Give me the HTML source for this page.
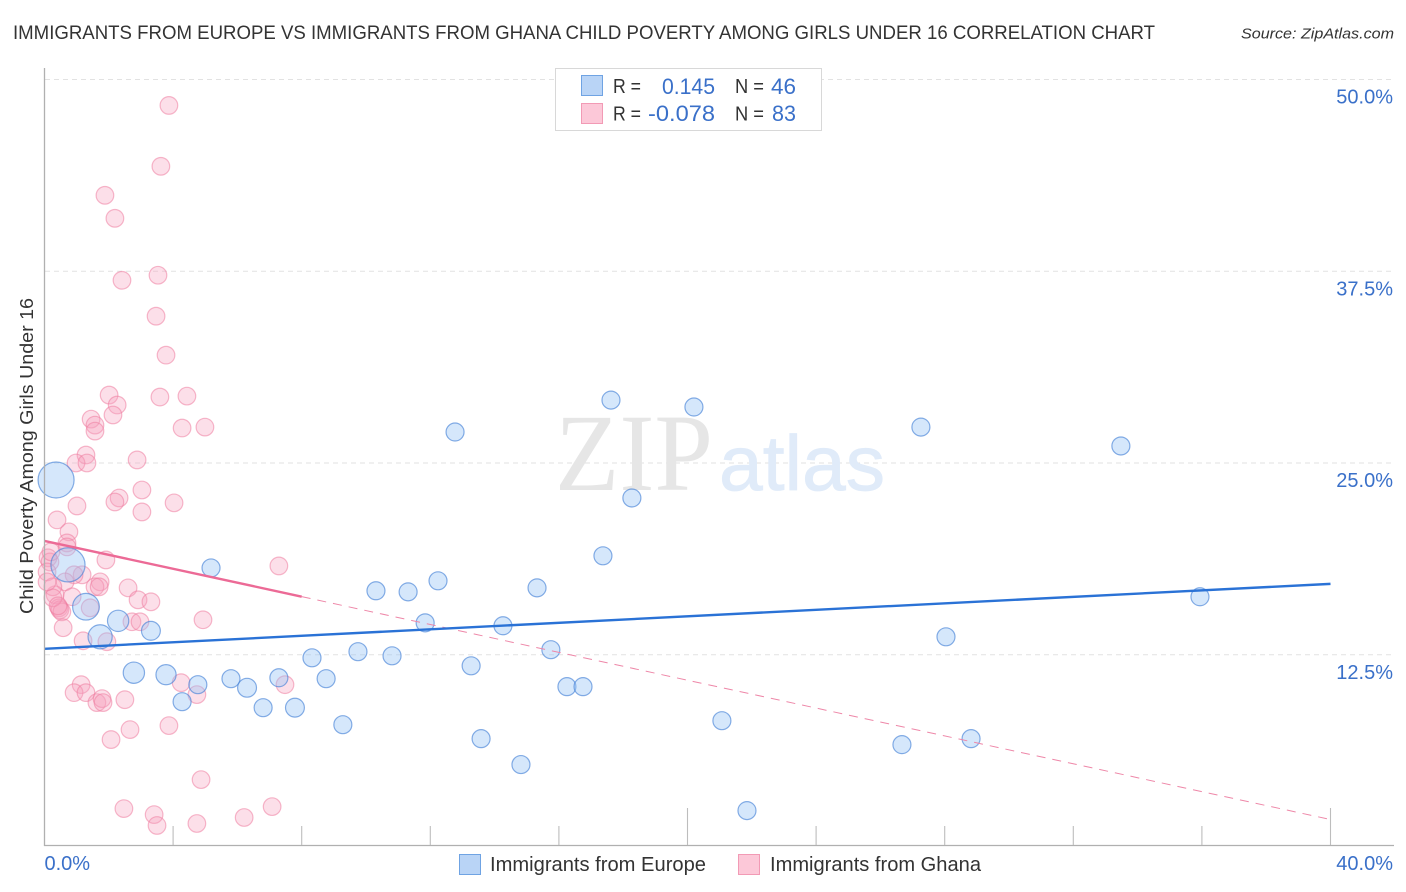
<!DOCTYPE html>
<html lang="en">
<head>
<meta charset="utf-8">
<title>Immigrants from Europe vs Immigrants from Ghana Child Poverty Correlation Chart</title>
<style>
html,body{margin:0;padding:0;background:#fff;width:1406px;height:892px;overflow:hidden}
svg{display:block;font-family:"Liberation Sans",sans-serif}
</style>
</head>
<body>
<svg id="chart" width="1406" height="892" viewBox="0 0 1406 892">
  <text x="13" y="39" font-size="19.5" fill="#333" textLength="1142" lengthAdjust="spacingAndGlyphs">IMMIGRANTS FROM EUROPE VS IMMIGRANTS FROM GHANA CHILD POVERTY AMONG GIRLS UNDER 16 CORRELATION CHART</text>
  <text x="1241" y="38.5" font-size="15" font-style="italic" fill="#333" textLength="153" lengthAdjust="spacingAndGlyphs">Source: ZipAtlas.com</text>
  <g id="grid"></g>
  <g>
    <text x="555" y="490" font-family="Liberation Serif" font-size="110" fill="#e6e6e6" textLength="158" lengthAdjust="spacingAndGlyphs">ZIP</text>
    <text x="719" y="490" font-size="78" fill="#e0ebf9" stroke="#e0ebf9" stroke-width="0.8" textLength="166" lengthAdjust="spacingAndGlyphs">atlas</text>
  </g>
  <g id="dots-ghana"></g>
  <g id="dots-europe"></g>
  <g id="trends"></g>
  <g id="axes"></g>
  <text transform="translate(33,614) rotate(-90)" font-size="18" fill="#333" textLength="316" lengthAdjust="spacingAndGlyphs">Child Poverty Among Girls Under 16</text>

  <g>
    <rect x="555.5" y="68.5" width="266" height="62" fill="#fff" stroke="#d8d8d8"/>
    <rect x="581.5" y="75.5" width="21" height="20" fill="#b9d4f6" stroke="#6fa3e3"/>
    <rect x="581.5" y="103.5" width="21" height="20" fill="#fcc8d8" stroke="#f29ab5"/>
    <text x="613" y="93" font-size="20" fill="#333" textLength="28" lengthAdjust="spacingAndGlyphs">R =</text>
    <text x="662" y="94" font-size="22" fill="#3a70c9" textLength="53" lengthAdjust="spacingAndGlyphs">0.145</text>
    <text x="735" y="93" font-size="20" fill="#333" textLength="29" lengthAdjust="spacingAndGlyphs">N =</text>
    <text x="771" y="94" font-size="22" fill="#3a70c9" textLength="25" lengthAdjust="spacingAndGlyphs">46</text>
    <text x="613" y="120.5" font-size="20" fill="#333" textLength="28" lengthAdjust="spacingAndGlyphs">R =</text>
    <text x="648" y="121" font-size="22" fill="#3a70c9" textLength="67" lengthAdjust="spacingAndGlyphs">-0.078</text>
    <text x="735" y="120.5" font-size="20" fill="#333" textLength="29" lengthAdjust="spacingAndGlyphs">N =</text>
    <text x="772" y="121" font-size="22" fill="#3a70c9" textLength="24" lengthAdjust="spacingAndGlyphs">83</text>
  </g>

  <g>
    <rect x="459.5" y="854.5" width="21" height="20" fill="#b9d4f6" stroke="#6fa3e3"/>
    <text x="490" y="871" font-size="20" fill="#333" textLength="216" lengthAdjust="spacingAndGlyphs">Immigrants from Europe</text>
    <rect x="738.5" y="854.5" width="21" height="20" fill="#fcc8d8" stroke="#f29ab5"/>
    <text x="770" y="871" font-size="20" fill="#333" textLength="211" lengthAdjust="spacingAndGlyphs">Immigrants from Ghana</text>
  </g>
</svg>
<script>
const europeX = [0.36,0.73,1.29,1.73,2.29,3.31,2.78,3.78,4.77,4.28,5.18,5.80,6.30,7.29,6.80,7.79,8.32,8.76,9.28,9.75,10.81,10.31,11.31,12.24,11.84,12.77,13.27,13.58,14.26,14.82,15.32,15.75,16.25,16.75,17.37,17.62,18.27,20.20,21.07,21.85,26.67,27.26,28.04,28.82,33.48,35.94];
const europeY = [23.89,18.36,15.63,13.67,14.71,14.06,11.33,11.20,10.55,9.44,18.16,10.94,10.35,11.00,9.05,9.05,12.30,10.94,7.94,12.70,12.43,16.67,16.60,17.32,14.58,27.02,11.78,7.03,14.39,5.34,16.86,12.83,10.42,10.42,18.95,29.10,22.72,28.65,8.20,2.34,6.64,27.34,13.67,7.03,26.11,16.28];
const europeWeight = [4,3.6,2.2,1.8,1.4,1.1,1.4,1.25,1,1,1,1,1.1,1,1,1.1,1,1,1,1,1,1,1,1,1,1,1,1,1,1,1,1,1,1,1,1,1,1,1,1,1,1,1,1,1,1];
const ghanaX = [3.87,3.62,1.88,2.19,2.41,3.53,3.47,3.78,2.01,2.26,3.59,4.43,1.45,2.13,1.57,1.57,4.28,4.99,1.29,0.98,1.32,2.88,3.03,2.32,2.19,4.03,3.03,1.01,0.39,0.76,0.70,0.70,1.91,7.29,0.11,0.17,0.08,1.17,0.92,1.73,2.60,0.64,1.57,1.70,0.33,0.26,2.91,3.31,0.86,0.45,0.48,0.54,1.42,0.58,4.93,2.72,2.97,1.20,1.94,1.14,0.92,1.29,1.63,1.79,1.82,2.50,4.25,4.74,7.48,3.87,2.66,2.07,4.87,2.47,3.41,3.50,4.74,6.21,7.08,0.26,0.08,0.42,0.20];
const ghanaY = [48.31,44.34,42.45,40.95,36.91,37.24,34.57,32.03,29.43,28.78,29.30,29.36,27.86,28.13,27.47,27.08,27.28,27.34,25.52,25.00,25.00,25.20,23.24,22.72,22.46,22.40,21.81,22.20,21.29,20.51,19.79,19.53,18.68,18.29,18.82,18.55,17.90,17.71,17.71,17.25,16.86,17.25,16.93,16.93,16.41,16.93,16.08,15.95,16.28,15.56,15.43,15.30,15.56,14.26,14.78,14.65,14.65,13.41,13.35,10.55,10.03,10.03,9.38,9.64,9.38,9.57,10.68,9.90,10.55,7.88,7.62,6.97,4.36,2.47,2.08,1.37,1.50,1.89,2.60,16.21,17.25,15.69,19.21];
const europeTrend = [12.89,17.12];
const ghanaTrend = [19.92,1.76];
const ghanaSolidEnd = 8;
const xTicks = [0,4,8,12,16,20,24,28,32,36,40];
const xMajorTicks = [20,40];
const xTickLabels = ["0.0%","40.0%"];
const yTicks = [12.5,25,37.5,50];
const yTickLabels = ["12.5%","25.0%","37.5%","50.0%"];

const NS = "http://www.w3.org/2000/svg";
const xScale = v => 44.5 + v * 32.15;
const yScale = v => 846.5 - v * 15.34;
function make(tag, parent, attrs) {
  const el = document.createElementNS(NS, tag);
  for (const k in attrs) el.setAttribute(k, attrs[k]);
  parent.appendChild(el);
  return el;
}
const grid = document.getElementById("grid");
const axes = document.getElementById("axes");
yTicks.forEach((t, i) => {
  const g = make("line", grid, {x1:45, x2:1394, y1:yScale(t), y2:yScale(t), stroke:"#e2e2e2", "stroke-width":1, "stroke-dasharray":"5 4"});
  
  
  const lb = make("text", axes, {x:1393, y:yScale(t)+24, "font-size":20, fill:"#3a70c9", "text-anchor":"end"});
  lb.textContent = yTickLabels[i];
  
  
});
const yAxis = make("line", axes, {x1:44.5, x2:44.5, y1:68, y2:846, stroke:"#b0b0b0", "stroke-width":1.3});


const xAxis = make("line", axes, {x1:44, x2:1394, y1:845.5, y2:845.5, stroke:"#b0b0b0", "stroke-width":1.3});


xTicks.slice(1).forEach(t => {
  const major = xMajorTicks.includes(t);
  const tk = make("line", axes, {x1:xScale(t), x2:xScale(t), y1:major?808:826, y2:845, stroke:"#bdbdbd", "stroke-width":1.1});
  
  
});
const xl0 = make("text", axes, {x:xScale(xTicks[0]), y:870, "font-size":20, fill:"#3a70c9"});
xl0.textContent = xTickLabels[0];


const xl1 = make("text", axes, {x:1393, y:870, "font-size":20, fill:"#3a70c9", "text-anchor":"end"});
xl1.textContent = xTickLabels[1];



const gG = document.getElementById("dots-ghana");
ghanaX.forEach((x, i) => {
  const c = make("circle", gG, {cx:xScale(x), cy:yScale(ghanaY[i]), r:8.8, fill:"rgba(247,160,190,0.34)", stroke:"rgba(238,125,160,0.55)", "stroke-width":1.2});
  
  
});
const gE = document.getElementById("dots-europe");
europeX.forEach((x, i) => {
  const c = make("circle", gE, {cx:xScale(x), cy:yScale(europeY[i]), r:9*Math.sqrt(europeWeight[i]), fill:"rgba(150,195,245,0.4)", stroke:"rgba(70,130,215,0.65)", "stroke-width":1.2});
  
  
});
const tr = document.getElementById("trends");
const ghanaAt = x => ghanaTrend[0] + (ghanaTrend[1]-ghanaTrend[0]) * x / 40;
const dash = make("line", tr, {x1:xScale(ghanaSolidEnd), y1:yScale(ghanaAt(ghanaSolidEnd)), x2:xScale(40), y2:yScale(ghanaTrend[1]), stroke:"#ee87a8", "stroke-width":1, "stroke-dasharray":"9 7"});


const solid = make("line", tr, {x1:xScale(0), y1:yScale(ghanaTrend[0]), x2:xScale(ghanaSolidEnd), y2:yScale(ghanaAt(ghanaSolidEnd)), stroke:"#ec6a96", "stroke-width":2.4});


const blue = make("line", tr, {x1:xScale(0), y1:yScale(europeTrend[0]), x2:xScale(40), y2:yScale(europeTrend[1]), stroke:"#2a72d6", "stroke-width":2.4});


</script>
</body>
</html>
